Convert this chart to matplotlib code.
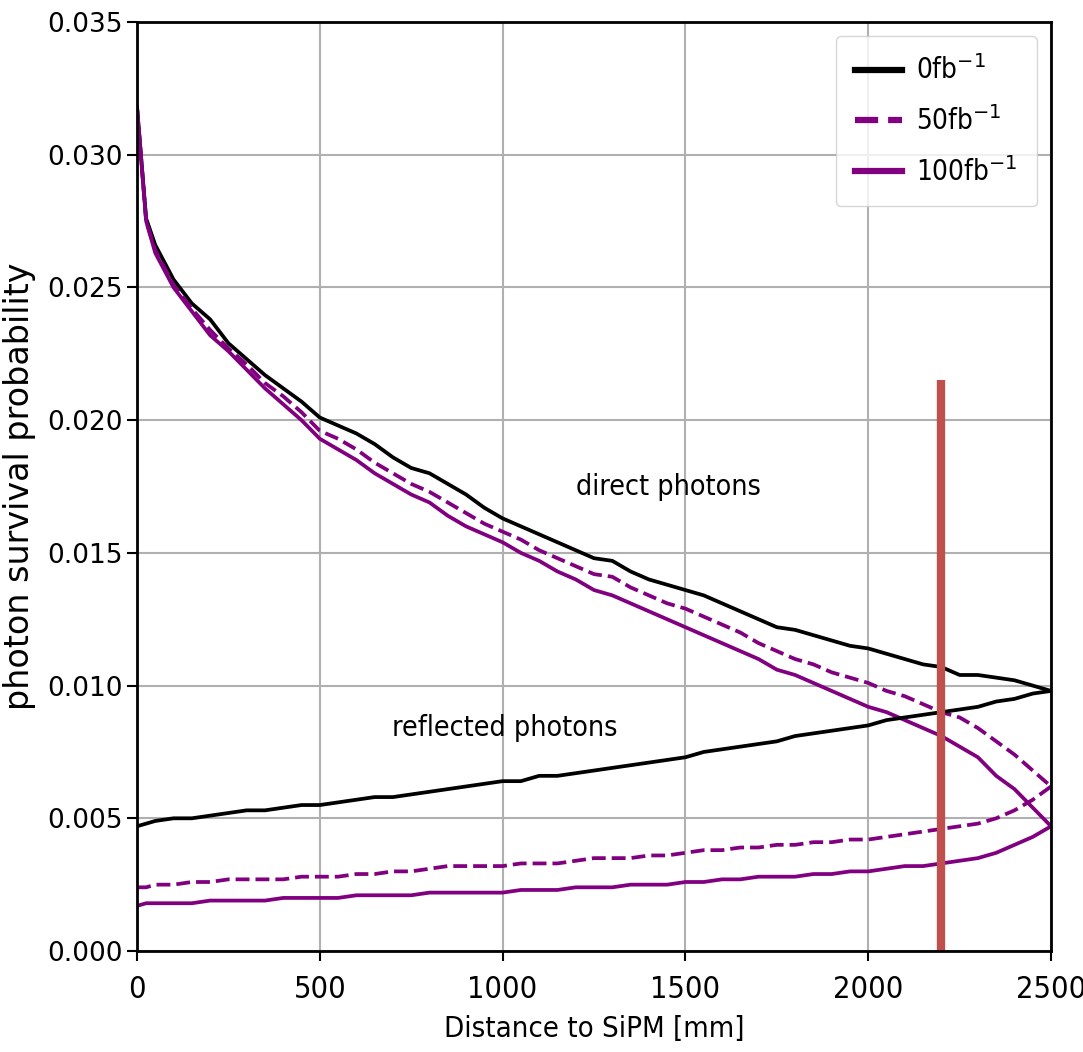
import matplotlib
matplotlib.use("Agg")
import matplotlib.pyplot as plt

# distance to SiPM [mm]
x_mm = [0, 25, 50, 100, 150, 200, 250, 300, 350, 400,
        450, 500, 550, 600, 650, 700, 750, 800, 850, 900,
        950, 1000, 1050, 1100, 1150, 1200, 1250, 1300, 1350, 1400,
        1450, 1500, 1550, 1600, 1650, 1700, 1750, 1800, 1850, 1900,
        1950, 2000, 2050, 2100, 2150, 2200, 2250, 2300, 2350, 2400,
        2450, 2500]

# direct photons
direct_0 = [0.0318, 0.0276, 0.0266, 0.0253, 0.0244, 0.0238, 0.0229, 0.0223, 0.0217, 0.0212,
            0.0207, 0.0201, 0.0198, 0.0195, 0.0191, 0.0186, 0.0182, 0.0180, 0.0176, 0.0172,
            0.0167, 0.0163, 0.0160, 0.0157, 0.0154, 0.0151, 0.0148, 0.0147, 0.0143, 0.0140,
            0.0138, 0.0136, 0.0134, 0.0131, 0.0128, 0.0125, 0.0122, 0.0121, 0.0119, 0.0117,
            0.0115, 0.0114, 0.0112, 0.0110, 0.0108, 0.0107, 0.0104, 0.0104, 0.0103, 0.0102,
            0.0100, 0.0098]
direct_50 = [0.0318, 0.0275, 0.0264, 0.0251, 0.0242, 0.0234, 0.0227, 0.0221, 0.0214, 0.0209,
             0.0203, 0.0196, 0.0193, 0.0189, 0.0184, 0.0180, 0.0176, 0.0173, 0.0169, 0.0165,
             0.0161, 0.0158, 0.0155, 0.0151, 0.0148, 0.0145, 0.0142, 0.0141, 0.0137, 0.0134,
             0.0131, 0.0129, 0.0126, 0.0123, 0.0120, 0.0116, 0.0113, 0.0110, 0.0108, 0.0105,
             0.0103, 0.0101, 0.0098, 0.0096, 0.0093, 0.0090, 0.0088, 0.0084, 0.0079, 0.0074,
             0.0068, 0.0062]
direct_100 = [0.0318, 0.0275, 0.0263, 0.0250, 0.0241, 0.0232, 0.0226, 0.0219, 0.0212, 0.0206,
              0.0200, 0.0193, 0.0189, 0.0185, 0.0180, 0.0176, 0.0172, 0.0169, 0.0164, 0.0160,
              0.0157, 0.0154, 0.0150, 0.0147, 0.0143, 0.0140, 0.0136, 0.0134, 0.0131, 0.0128,
              0.0125, 0.0122, 0.0119, 0.0116, 0.0113, 0.0110, 0.0106, 0.0104, 0.0101, 0.0098,
              0.0095, 0.0092, 0.0090, 0.0087, 0.0084, 0.0081, 0.0077, 0.0073, 0.0066, 0.0061,
              0.0054, 0.0047]

# reflected photons
reflected_0 = [0.0047, 0.0048, 0.0049, 0.0050, 0.0050, 0.0051, 0.0052, 0.0053, 0.0053, 0.0054,
               0.0055, 0.0055, 0.0056, 0.0057, 0.0058, 0.0058, 0.0059, 0.0060, 0.0061, 0.0062,
               0.0063, 0.0064, 0.0064, 0.0066, 0.0066, 0.0067, 0.0068, 0.0069, 0.0070, 0.0071,
               0.0072, 0.0073, 0.0075, 0.0076, 0.0077, 0.0078, 0.0079, 0.0081, 0.0082, 0.0083,
               0.0084, 0.0085, 0.0087, 0.0088, 0.0089, 0.0090, 0.0091, 0.0092, 0.0094, 0.0095,
               0.0097, 0.0098]
reflected_50 = [0.0024, 0.0024, 0.0025, 0.0025, 0.0026, 0.0026, 0.0027, 0.0027, 0.0027, 0.0027,
                0.0028, 0.0028, 0.0028, 0.0029, 0.0029, 0.0030, 0.0030, 0.0031, 0.0032, 0.0032,
                0.0032, 0.0032, 0.0033, 0.0033, 0.0033, 0.0034, 0.0035, 0.0035, 0.0035, 0.0036,
                0.0036, 0.0037, 0.0038, 0.0038, 0.0039, 0.0039, 0.0040, 0.0040, 0.0041, 0.0041,
                0.0042, 0.0042, 0.0043, 0.0044, 0.0045, 0.0046, 0.0047, 0.0048, 0.0050, 0.0053,
                0.0057, 0.0062]
reflected_100 = [0.0017, 0.0018, 0.0018, 0.0018, 0.0018, 0.0019, 0.0019, 0.0019, 0.0019, 0.0020,
                 0.0020, 0.0020, 0.0020, 0.0021, 0.0021, 0.0021, 0.0021, 0.0022, 0.0022, 0.0022,
                 0.0022, 0.0022, 0.0023, 0.0023, 0.0023, 0.0024, 0.0024, 0.0024, 0.0025, 0.0025,
                 0.0025, 0.0026, 0.0026, 0.0027, 0.0027, 0.0028, 0.0028, 0.0028, 0.0029, 0.0029,
                 0.0030, 0.0030, 0.0031, 0.0032, 0.0032, 0.0033, 0.0034, 0.0035, 0.0037, 0.0040,
                 0.0043, 0.0047]

cut_position = 2200     # red marker
cut_top = 0.0215

purple = "#800080"
lw = 2.7

fig = plt.figure(figsize=(10.83, 10.52), dpi=100)
ax = fig.add_axes([0.1265, 0.096, 0.844, 0.883])

ax.plot(x_mm, direct_0, color="black", lw=lw, label="0fb$^{-1}$")
ax.plot(x_mm, direct_50, color=purple, lw=lw, ls="--", label="50fb$^{-1}$")
ax.plot(x_mm, direct_100, color=purple, lw=lw, label="100fb$^{-1}$")
ax.plot(x_mm, reflected_0, color="black", lw=lw)
ax.plot(x_mm, reflected_50, color=purple, lw=lw, ls="--")
ax.plot(x_mm, reflected_100, color=purple, lw=lw)

ax.plot([cut_position, cut_position], [0, cut_top], color="#c0504d", lw=6, solid_capstyle="butt")

ax.text(1200, 0.0175, "direct photons", fontsize=20.5, stretch="condensed", va="center")
ax.text(697, 0.0084, "reflected photons", fontsize=20.5, stretch="condensed", va="center")

ax.set_xlim(0, 2500)
ax.set_ylim(0, 0.035)
ax.set_xticks([0, 500, 1000, 1500, 2000, 2500])
ax.set_yticks([0.0, 0.005, 0.010, 0.015, 0.020, 0.025, 0.030, 0.035])
ax.set_yticklabels(["0.000", "0.005", "0.010", "0.015", "0.020", "0.025", "0.030", "0.035"],
                   fontsize=19)
for lab in ax.get_xticklabels():
    lab.set_fontsize(22)
    lab.set_stretch("condensed")
ax.tick_params(length=7, width=1.5)
ax.tick_params(axis="x", pad=10)
ax.grid(True, color="#b0b0b0", lw=1.5)
for sp in ax.spines.values():
    sp.set_linewidth(2)

ax.set_xlabel("Distance to SiPM [mm]", fontsize=21, stretch="condensed", labelpad=8)
ax.set_ylabel("photon survival probability", fontsize=24, labelpad=8)

leg = ax.legend(loc="upper right", handlelength=1.7, handletextpad=0.5, borderpad=0.7,
                labelspacing=0.75, prop={"size": 20, "stretch": "condensed"})
for h in leg.get_lines():
    h.set_linewidth(4.5)

fig.savefig("out.png", dpi=100)
